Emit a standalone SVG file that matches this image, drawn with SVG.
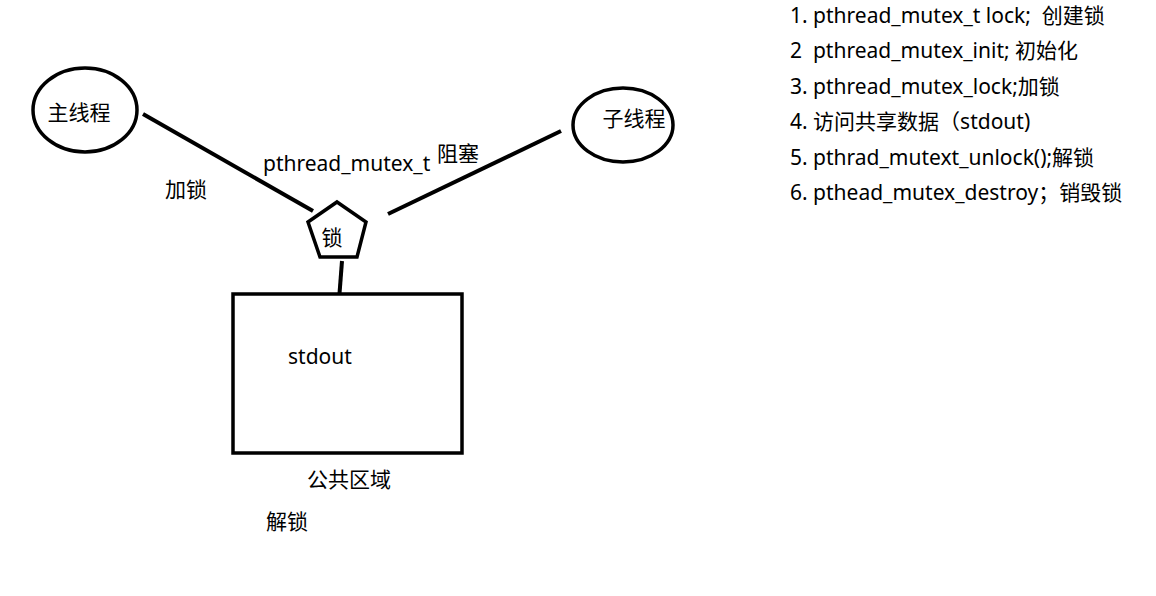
<svg xmlns="http://www.w3.org/2000/svg" width="1156" height="596" viewBox="0 0 1156 596">
<style>
text{font-family:"Noto Sans","Noto Sans CJK SC",sans-serif;font-size:21px;fill:#000;white-space:pre}
.s{fill:none;stroke:#000;stroke-width:4}
.w{fill:#fff;stroke:#000;stroke-width:3.5}
</style>
<rect width="1156" height="596" fill="#fff"/>
<g id="connectors">
<line class="s" x1="143" y1="114" x2="313" y2="211"/>
<line class="s" x1="561" y1="131" x2="388" y2="214"/>
<line class="s" x1="342" y1="261" x2="339" y2="300"/>
</g>
<g id="main-thread">
<ellipse class="w" cx="85" cy="110" rx="52" ry="42"/>
<text x="79" y="120" text-anchor="middle">主线程</text>
</g>
<g id="child-thread">
<ellipse class="w" cx="623" cy="125" rx="50" ry="37"/>
<text x="634" y="126" text-anchor="middle">子线程</text>
</g>
<g id="lock">
<polygon class="w" points="337,202 366,222 357,257 320,257 308,222" stroke-width="4"/>
<text x="332" y="245" text-anchor="middle">锁</text>
</g>
<g id="stdout">
<rect class="w" x="233" y="294" width="229" height="159" stroke-width="4"/>
<text x="288" y="364">stdout</text>
</g>
<g id="labels">
<text x="263" y="171">pthread_mutex_t</text>
<text x="437" y="161">阻塞</text>
<text x="165" y="197">加锁</text>
<text x="307" y="487">公共区域</text>
<text x="266" y="529">解锁</text>
</g>
<g id="steps">
<text x="790" y="23">1. pthread_mutex_t lock;  创建锁</text>
<text x="790" y="58">2  pthread_mutex_init; 初始化</text>
<text x="790" y="94">3. pthread_mutex_lock;加锁</text>
<text x="790" y="129">4. 访问共享数据（stdout)</text>
<text x="790" y="165">5. pthrad_mutext_unlock();解锁</text>
<text x="790" y="200">6. pthead_mutex_destroy；销毁锁</text>
</g>
</svg>
